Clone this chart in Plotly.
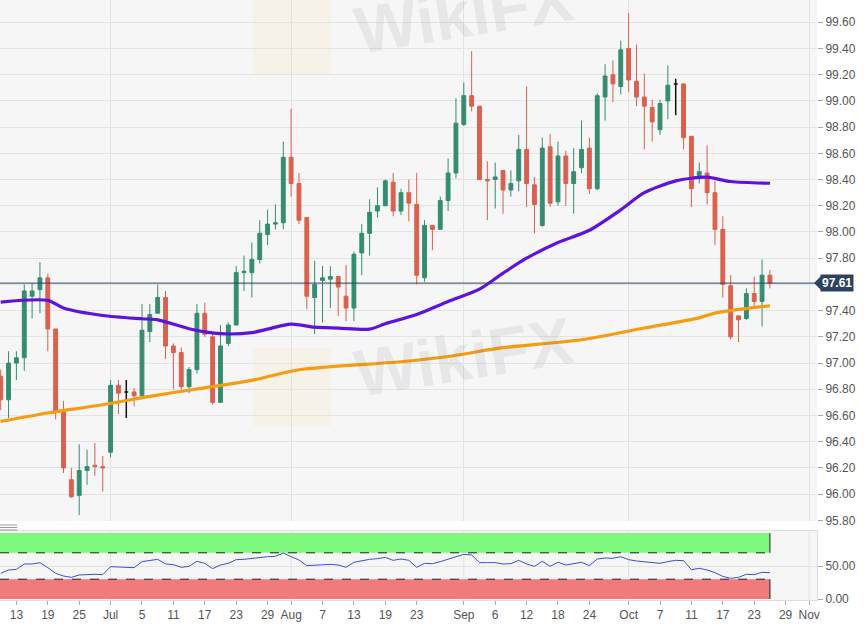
import numpy as np
import pandas as pd
import plotly.graph_objects as go

# ---------------- data ----------------
dates = pd.bdate_range("2019-06-11", "2019-10-25").strftime("%Y-%m-%d").tolist()

opens = [96.90, 96.72, 97.00, 97.04, 97.51, 97.56, 97.65, 97.26, 96.63, 96.11,
         95.99, 96.18, 96.22, 96.21, 96.32, 96.83, 96.78, 96.78, 96.75, 97.24,
         97.38, 97.50, 97.13, 97.08, 96.82, 96.95, 97.38, 97.20, 96.70, 97.15,
         97.29, 97.69, 97.69, 97.79, 97.98, 98.06, 98.07, 98.57, 98.37, 98.11,
         97.50, 97.63, 97.64, 97.66, 97.51, 97.42, 97.84, 97.99, 98.16, 98.20,
         98.38, 98.16, 98.30, 98.21, 97.65, 98.05, 98.02, 98.24, 98.45, 98.82,
         99.04, 98.96, 98.40, 98.40, 98.47, 98.32, 98.39, 98.63, 98.36, 98.05,
         98.65, 98.23, 98.58, 98.37, 98.49, 98.64, 98.33, 99.03, 99.20, 99.11,
         99.40, 99.15, 99.03, 98.95, 98.78, 99.00, 99.13, 99.13, 98.73, 98.43,
         98.45, 98.30, 98.02, 97.59, 97.36, 97.34, 97.53, 97.47, 97.67]
highs = [96.95, 97.09, 97.09, 97.60, 97.61, 97.77, 97.68, 97.26, 96.71, 96.20,
         96.38, 96.34, 96.39, 96.29, 96.87, 96.87, 96.87, 96.81, 97.45, 97.45,
         97.60, 97.55, 97.15, 97.12, 96.97, 97.45, 97.46, 97.22, 97.29, 97.31,
         97.74, 97.82, 97.92, 98.09, 98.17, 98.21, 98.69, 98.94, 98.45, 98.11,
         97.78, 97.74, 97.74, 97.66, 97.75, 97.85, 98.06, 98.25, 98.34, 98.40,
         98.45, 98.33, 98.40, 98.45, 98.09, 98.05, 98.27, 98.56, 99.02, 99.14,
         99.38, 98.96, 98.54, 98.53, 98.47, 98.47, 98.74, 99.11, 98.42, 98.72,
         98.75, 98.69, 98.62, 98.64, 98.85, 98.72, 99.06, 99.28, 99.31, 99.46,
         99.67, 99.43, 99.21, 99.01, 99.01, 99.27, 99.17, 99.13, 98.73, 98.53,
         98.66, 98.39, 98.12, 97.67, 97.36, 97.57, 97.66, 97.79, 97.71]
lows = [96.64, 96.58, 96.87, 96.94, 97.34, 97.38, 97.09, 96.57, 96.16, 95.97,
        95.84, 96.07, 96.14, 96.02, 96.28, 96.61, 96.58, 96.67, 96.75, 97.16,
        97.38, 97.03, 96.80, 96.80, 96.77, 96.92, 97.20, 96.68, 96.70, 97.13,
        97.29, 97.55, 97.50, 97.76, 97.90, 98.02, 98.02, 98.27, 98.06, 97.41,
        97.22, 97.31, 97.42, 97.36, 97.32, 97.32, 97.67, 97.82, 98.11, 98.20,
        98.12, 98.13, 98.08, 97.60, 97.62, 97.86, 98.02, 98.16, 98.41, 98.81,
        98.92, 98.40, 98.09, 98.18, 98.14, 98.27, 98.31, 98.19, 97.99, 98.04,
        98.19, 98.20, 98.20, 98.14, 98.45, 98.29, 98.32, 98.85, 98.99, 99.05,
        99.07, 98.96, 98.63, 98.69, 98.74, 98.86, 98.89, 98.63, 98.19, 98.37,
        98.21, 97.90, 97.50, 97.18, 97.16, 97.33, 97.43, 97.28, 97.57]
closes = [96.72, 97.00, 97.04, 97.55, 97.55, 97.65, 97.26, 96.63, 96.20, 95.98,
          96.18, 96.21, 96.21, 96.20, 96.83, 96.77, 96.78, 96.75, 97.25, 97.37,
          97.50, 97.13, 97.08, 96.82, 96.95, 97.38, 97.22, 96.70, 97.13, 97.29,
          97.69, 97.70, 97.79, 97.99, 98.06, 98.07, 98.57, 98.37, 98.09, 97.51,
          97.60, 97.65, 97.66, 97.58, 97.42, 97.83, 97.99, 98.15, 98.20, 98.39,
          98.16, 98.30, 98.22, 97.67, 98.05, 98.02, 98.24, 98.45, 98.83, 99.04,
          98.96, 98.40, 98.39, 98.42, 98.32, 98.37, 98.63, 98.37, 98.21, 98.64,
          98.22, 98.58, 98.37, 98.46, 98.63, 98.33, 99.04, 99.19, 99.13, 99.39,
          99.16, 99.03, 98.96, 98.84, 98.98, 99.12, 99.13, 98.72, 98.33, 98.46,
          98.30, 98.02, 97.60, 97.20, 97.33, 97.53, 97.47, 97.67, 97.61]
cross_days = ["2019-07-03", "2019-10-09"]  # doji drawn in black

sma_fast_dates = ["2019-06-11", "2019-06-19", "2019-06-21", "2019-06-28", "2019-07-05",
                  "2019-07-09", "2019-07-15", "2019-07-19", "2019-07-25", "2019-07-29",
                  "2019-08-01", "2019-08-06", "2019-08-09", "2019-08-15", "2019-08-19",
                  "2019-08-23", "2019-08-29", "2019-09-04", "2019-09-09", "2019-09-12",
                  "2019-09-18", "2019-09-24", "2019-09-30", "2019-10-03", "2019-10-09",
                  "2019-10-11", "2019-10-15", "2019-10-18", "2019-10-25"]
sma_fast = [97.465, 97.478, 97.42, 97.363, 97.338, 97.33, 97.262, 97.224, 97.232, 97.259,
            97.297, 97.274, 97.267, 97.259, 97.30, 97.37, 97.47, 97.564, 97.686, 97.80,
            97.92, 98.013, 98.169, 98.30, 98.39, 98.41, 98.418, 98.385, 98.372]

sma_slow_dates = ["2019-06-11", "2019-06-19", "2019-06-28", "2019-07-08", "2019-07-16",
                  "2019-07-25", "2019-08-02", "2019-08-21", "2019-08-29", "2019-09-09",
                  "2019-09-23", "2019-10-03", "2019-10-14", "2019-10-16", "2019-10-25"]
sma_slow = [96.555, 96.619, 96.682, 96.746, 96.802, 96.868, 96.949, 97.01, 97.05, 97.117,
            97.178, 97.267, 97.345, 97.381, 97.437]

rsi = [38.9, 43.9, 44.9, 53.0, 53.0, 55.0, 47.5, 38.9, 34.8, 32.8,
       36.4, 37.4, 37.4, 36.9, 49.0, 48.5, 48.0, 47.5, 56.6, 58.1,
       60.1, 53.0, 52.0, 48.0, 49.5, 57.1, 54.0, 46.0, 51.5, 54.0,
       59.6, 60.1, 61.6, 63.6, 64.1, 64.6, 69.7, 64.1, 59.1, 50.5,
       51.5, 52.5, 52.5, 51.5, 48.0, 55.6, 58.1, 60.1, 61.1, 63.1,
       58.6, 60.6, 58.6, 48.0, 54.0, 53.5, 56.6, 60.6, 64.1, 67.7,
       66.7, 55.1, 55.1, 55.1, 53.0, 53.5, 58.6, 53.0, 49.5, 57.1,
       49.5, 55.6, 51.5, 53.0, 55.6, 50.5, 60.6, 62.1, 61.6, 64.1,
       59.6, 57.6, 56.6, 55.1, 54.0, 56.6, 58.6, 58.1, 44.4, 46.5,
       43.9, 39.9, 34.3, 31.3, 32.8, 37.4, 36.9, 40.4, 39.9]

last_price = 97.61
rsi_upper, rsi_lower = 70, 30

price_ticks = [95.8, 96.0, 96.2, 96.4, 96.6, 96.8, 97.0, 97.2, 97.4, 97.6,
               97.8, 98.0, 98.2, 98.4, 98.6, 98.8, 99.0, 99.2, 99.4, 99.6]
price_tick_text = ["95.80", "96.00", "96.20", "96.40", "96.60", "96.80", "97.00", "97.20",
                   "97.40", "", "97.80", "98.00", "98.20", "98.40", "98.60", "98.80",
                   "99.00", "99.20", "99.40", "99.60"]

tick_dates = ["2019-06-13", "2019-06-19", "2019-06-25", "2019-07-01", "2019-07-05",
              "2019-07-11", "2019-07-17", "2019-07-23", "2019-07-29", "2019-08-01",
              "2019-08-07", "2019-08-13", "2019-08-19", "2019-08-23", "2019-09-02",
              "2019-09-06", "2019-09-12", "2019-09-18", "2019-09-24", "2019-10-01",
              "2019-10-07", "2019-10-11", "2019-10-17", "2019-10-23", "2019-10-29",
              "2019-11-01"]
tick_text = ["13", "19", "25", "Jul", "5", "11", "17", "23", "29", "Aug", "7", "13", "19",
             "23", "Sep", "6", "12", "18", "24", "Oct", "7", "11", "17", "23", "29", "Nov"]
month_dates = ["2019-07-01", "2019-08-01", "2019-09-02", "2019-10-01", "2019-11-01"]

# ---------------- helpers ----------------
START = np.datetime64(dates[0])


def pos(ds):
    return np.busday_count(START, np.array(ds, dtype="datetime64[D]")).tolist()


xs = pos(dates)
GREEN = "#358c70"
RED = "#d9614e"
FONT = "Liberation Sans, Arial, sans-serif"

is_cross = [d in cross_days for d in dates]
norm = [i for i in range(len(dates)) if not is_cross[i]]
crs = [i for i in range(len(dates)) if is_cross[i]]


def sel(arr, idx):
    return [arr[i] for i in idx]


fig = go.Figure()
fig.add_trace(go.Candlestick(
    x=sel(xs, norm), open=sel(opens, norm), high=sel(highs, norm),
    low=sel(lows, norm), close=sel(closes, norm),
    increasing=dict(line=dict(color=GREEN, width=1), fillcolor=GREEN),
    decreasing=dict(line=dict(color=RED, width=1), fillcolor=RED),
    whiskerwidth=0, showlegend=False, xaxis="x", yaxis="y"))
fig.add_trace(go.Candlestick(
    x=sel(xs, crs), open=sel(opens, crs), high=sel(highs, crs),
    low=sel(lows, crs), close=sel(closes, crs),
    increasing=dict(line=dict(color="#111111", width=1.5), fillcolor="#111111"),
    decreasing=dict(line=dict(color="#111111", width=1.5), fillcolor="#111111"),
    whiskerwidth=0, showlegend=False, xaxis="x", yaxis="y"))
fig.add_trace(go.Scatter(x=pos(sma_fast_dates), y=sma_fast, mode="lines",
                         line=dict(color="#5e12dc", width=3.2, shape="spline", smoothing=0.8),
                         showlegend=False, xaxis="x", yaxis="y"))
fig.add_trace(go.Scatter(x=pos(sma_slow_dates), y=sma_slow, mode="lines",
                         line=dict(color="#f59d12", width=3.2, shape="spline", smoothing=0.8),
                         showlegend=False, xaxis="x", yaxis="y"))
fig.add_trace(go.Scatter(x=xs, y=rsi, mode="lines",
                         line=dict(color="#3b4fd4", width=1),
                         showlegend=False, xaxis="x2", yaxis="y2"))

XR = [-0.09, 104.0]
last_x = xs[-1]
shapes = []
# month grid lines in the lower panel
for m in pos(month_dates):
    shapes.append(dict(type="line", xref="x2", yref="y2", x0=m, x1=m, y0=-1.5, y1=103,
                       line=dict(color="#e2e2e2", width=1), layer="below"))
# watermark logo squares (faint)
for (ya, yb) in ((0.875, 1.0), (0.29, 0.42)):
    shapes.append(dict(type="rect", xref="paper", yref="paper",
                       x0=0.31, x1=0.405, y0=ya, y1=yb,
                       fillcolor="rgba(245,215,140,0.13)", line=dict(width=0), layer="below"))
# RSI bands
shapes.append(dict(type="rect", xref="x2", yref="y2", x0=XR[0], x1=last_x, y0=rsi_upper, y1=100,
                   fillcolor="#7ff97d", line=dict(width=0), layer="below"))
shapes.append(dict(type="rect", xref="x2", yref="y2", x0=XR[0], x1=last_x, y0=0, y1=rsi_lower,
                   fillcolor="#f17a7a", line=dict(width=0), layer="below"))
for lv in (rsi_upper, rsi_lower):
    shapes.append(dict(type="line", xref="x2", yref="y2", x0=XR[0], x1=last_x, y0=lv, y1=lv,
                       line=dict(color="#222222", width=1, dash="dash")))
shapes.append(dict(type="line", xref="x2", yref="y2", x0=last_x, x1=last_x, y0=rsi_upper, y1=100,
                   line=dict(color="#222222", width=1)))
shapes.append(dict(type="line", xref="x2", yref="y2", x0=last_x, x1=last_x, y0=0, y1=rsi_lower,
                   line=dict(color="#222222", width=1)))
# last price line
shapes.append(dict(type="line", xref="paper", yref="y", x0=0, x1=1, y0=last_price, y1=last_price,
                   line=dict(color="#2d4263", width=1)))
shapes.append(dict(type="path", xref="paper", yref="y", xsizemode="pixel", ysizemode="pixel",
                   xanchor=1, yanchor=last_price, path="M -3,0 L 4,7 L 4,-7 Z",
                   fillcolor="#2d4263", line=dict(width=0)))
# panel handle
for yy in (0.125, 0.1208, 0.1167):
    shapes.append(dict(type="line", xref="paper", yref="paper", x0=0, x1=0.021, y0=yy, y1=yy,
                       line=dict(color="#9a9a9a", width=1)))

annotations = [
    dict(xref="paper", yref="y", x=1, y=last_price, xanchor="left", yanchor="middle", xshift=3,
         text="<b>%.2f</b>" % last_price, showarrow=False, bgcolor="#2d4263", borderpad=1,
         font=dict(color="white", size=12, family=FONT)),
    dict(xref="paper", yref="paper", x=0.567, y=1.0, yshift=42, text="<b>WikiFX</b>",
         showarrow=False, textangle=-9,
         font=dict(size=66, color="rgba(110,100,100,0.10)", family=FONT)),
    dict(xref="paper", yref="paper", x=0.567, y=0.405, text="<b>WikiFX</b>", showarrow=False,
         textangle=-9, font=dict(size=66, color="rgba(110,100,100,0.10)", family=FONT)),
]

fig.update_layout(
    width=868, height=629,
    margin=dict(l=0, r=51, t=0, b=29),
    paper_bgcolor="white", plot_bgcolor="#f6f6f6",
    font=dict(family=FONT, size=12, color="#555555"),
    showlegend=False,
    shapes=shapes, annotations=annotations,
    xaxis=dict(domain=[0, 1], range=XR, anchor="y", rangeslider=dict(visible=False),
               tickvals=pos(month_dates), showticklabels=False, ticks="",
               showgrid=True, gridcolor="#e2e2e2", zeroline=False, fixedrange=True),
    yaxis=dict(domain=[0.1317, 1], range=[95.795, 99.77], side="right", anchor="x",
               tickvals=price_ticks, ticktext=price_tick_text, ticks="outside", ticklen=5,
               tickcolor="#aaaaaa", showgrid=True, gridcolor="#e4e4e4", zeroline=False,
               tickfont=dict(size=12, color="#555555")),
    xaxis2=dict(domain=[0, 1], range=XR, anchor="y2", matches="x",
                tickvals=pos(tick_dates), ticktext=tick_text, ticks="outside", ticklen=4,
                tickcolor="#aaaaaa", showgrid=False, zeroline=False,
                showline=True, linecolor="#dddddd", mirror=True,
                tickfont=dict(size=12, color="#555555")),
    yaxis2=dict(domain=[0, 0.115], range=[-1.5, 103], side="right", anchor="x2",
                tickvals=[0, 50], ticktext=["0.00", "50.00"], ticks="outside", ticklen=5,
                tickcolor="#aaaaaa", showgrid=True, gridcolor="#e4e4e4", zeroline=False,
                showline=True, linecolor="#dddddd", mirror=True,
                tickfont=dict(size=12, color="#555555")),
)

fig.write_html("out.html", config={"displayModeBar": False},
               post_script="document.body.style.margin='0px';")
